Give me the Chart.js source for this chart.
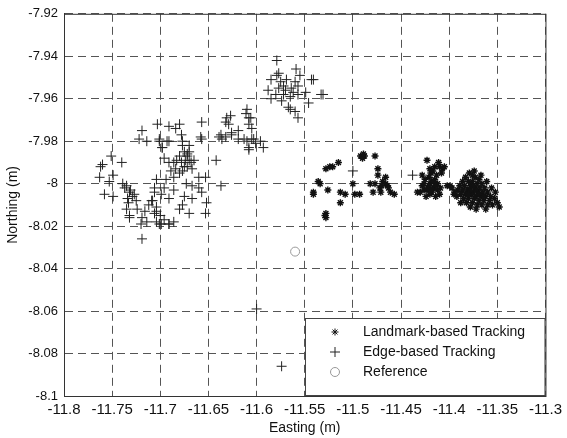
<!DOCTYPE html>
<html>
<head>
<meta charset="utf-8">
<script src="https://cdn.jsdelivr.net/npm/chart.js@4"></script>
<style>
  body { margin: 0; background: #fff; }
  #wrap { width: 567px; height: 438px; }
</style>
</head>
<body>
<div id="wrap"><canvas id="myChart" width="567" height="438"></canvas></div>
<script>
// tick values / labels
const xTicks = [-11.8, -11.75, -11.7, -11.65, -11.6, -11.55, -11.5, -11.45, -11.4, -11.35, -11.3];
const xTickLabels = ['-11.8', '-11.75', '-11.7', '-11.65', '-11.6', '-11.55', '-11.5', '-11.45', '-11.4', '-11.35', '-11.3'];
const yTicks = [-8.1, -8.08, -8.06, -8.04, -8.02, -8, -7.98, -7.96, -7.94, -7.92];
const yTickLabels = ['-8.1', '-8.08', '-8.06', '-8.04', '-8.02', '-8', '-7.98', '-7.96', '-7.94', '-7.92'];

const seriesNames = ['Landmark-based Tracking', 'Edge-based Tracking', 'Reference'];

// [easting, northing]
const landmarkPoints = [
  [-11.528,-7.993],[-11.515,-7.990],[-11.521,-7.992],[-11.541,-8.004],[-11.534,-8.000],[-11.526,-8.003],
  [-11.513,-8.004],[-11.508,-8.005],[-11.513,-8.009],[-11.528,-8.014],[-11.528,-8.016],[-11.500,-8.000],
  [-11.498,-8.005],[-11.493,-8.005],[-11.492,-7.987],[-11.488,-7.987],[-11.477,-7.987],[-11.474,-7.993],
  [-11.474,-7.996],[-11.482,-8.000],[-11.477,-8.000],[-11.472,-8.002],[-11.466,-7.997],[-11.466,-8.000],
  [-11.464,-8.001],[-11.461,-8.004],[-11.457,-8.005],[-11.471,-8.004],[-11.479,-8.004],[-11.536,-7.999],
  [-11.541,-8.005],[-11.490,-7.988],[-11.469,-7.999],[-11.529,-8.015],[-11.524,-7.992],[-11.470,-8.001],
  [-11.463,-8.002],[-11.489,-7.986],
  // cluster around -11.42
  [-11.423,-7.989],[-11.415,-7.992],[-11.410,-7.992],[-11.407,-7.993],[-11.420,-7.993],[-11.428,-7.996],
  [-11.421,-7.997],[-11.415,-7.998],[-11.426,-8.000],[-11.420,-8.000],[-11.412,-8.000],[-11.409,-8.002],
  [-11.423,-8.003],[-11.430,-8.004],[-11.418,-8.004],[-11.410,-8.005],[-11.433,-8.004],[-11.420,-8.005],
  [-11.428,-8.001],[-11.402,-8.001],[-11.399,-8.001],[-11.397,-8.002],[-11.395,-8.005],[-11.418,-7.999],
  [-11.416,-8.002],[-11.422,-8.002],[-11.413,-7.996],[-11.425,-7.998],[-11.412,-8.003],[-11.419,-7.995],
  [-11.424,-8.006],[-11.414,-8.006],[-11.417,-7.994],[-11.405,-7.992],[-11.411,-7.990],[-11.416,-7.999],
  [-11.421,-8.001],[-11.414,-8.001],[-11.426,-8.003],[-11.418,-8.003],[-11.408,-7.995],
  // cluster around -11.37
  [-11.379,-7.995],[-11.376,-7.996],[-11.383,-7.997],[-11.373,-7.997],[-11.369,-7.998],[-11.386,-7.999],
  [-11.380,-7.999],[-11.376,-7.999],[-11.371,-8.000],[-11.366,-8.000],[-11.389,-8.001],[-11.384,-8.001],
  [-11.378,-8.001],[-11.373,-8.002],[-11.368,-8.002],[-11.363,-8.002],[-11.391,-8.003],[-11.386,-8.003],
  [-11.381,-8.003],[-11.375,-8.004],[-11.370,-8.004],[-11.365,-8.004],[-11.360,-8.004],[-11.388,-8.005],
  [-11.383,-8.005],[-11.377,-8.005],[-11.372,-8.006],[-11.367,-8.006],[-11.362,-8.006],[-11.357,-8.006],
  [-11.392,-8.006],[-11.385,-8.007],[-11.380,-8.007],[-11.374,-8.007],[-11.369,-8.008],[-11.364,-8.008],
  [-11.358,-8.008],[-11.353,-8.007],[-11.382,-8.009],[-11.376,-8.009],[-11.371,-8.010],[-11.366,-8.010],
  [-11.360,-8.010],[-11.355,-8.010],[-11.350,-8.009],[-11.378,-8.011],[-11.372,-8.012],[-11.362,-8.012],
  [-11.348,-8.011],[-11.394,-8.004],[-11.388,-8.009],[-11.352,-8.004],[-11.356,-8.002],[-11.361,-7.999],
  [-11.367,-7.996],[-11.374,-7.994],[-11.378,-8.003],[-11.372,-8.003],[-11.375,-8.001],[-11.369,-8.005],
  [-11.380,-8.005],[-11.364,-8.006]
];

const edgePoints = [
  // left group
  [-11.751,-7.987],[-11.760,-7.991],[-11.740,-7.990],[-11.763,-7.997],[-11.753,-7.999],[-11.749,-7.996],
  [-11.758,-8.005],[-11.749,-8.006],[-11.739,-8.000],[-11.735,-8.001],[-11.732,-8.004],[-11.729,-8.006],
  [-11.734,-8.007],[-11.725,-8.008],[-11.735,-8.012],[-11.724,-8.012],[-11.732,-8.016],[-11.719,-8.016],
  [-11.716,-8.013],[-11.709,-8.008],[-11.706,-8.004],[-11.704,-8.013],[-11.714,-8.018],[-11.720,-8.019],
  [-11.704,-8.018],[-11.699,-8.019],[-11.691,-8.019],[-11.719,-8.026],[-11.719,-7.975],[-11.714,-7.980],
  [-11.722,-7.979],[-11.762,-7.992],[-11.737,-8.002],[-11.731,-8.003],[-11.733,-8.009],[-11.727,-8.005],
  [-11.732,-8.015],[-11.712,-8.010],[-11.700,-8.015],[-11.696,-8.017],[-11.686,-8.018],
  // dense group near -11.68
  [-11.703,-7.972],[-11.691,-7.973],[-11.684,-7.974],[-11.657,-7.971],[-11.657,-7.979],[-11.678,-7.977],
  [-11.701,-7.980],[-11.693,-7.980],[-11.698,-7.983],[-11.677,-7.982],[-11.672,-7.986],[-11.670,-7.989],
  [-11.678,-7.990],[-11.684,-7.993],[-11.691,-7.990],[-11.696,-7.988],[-11.677,-7.994],[-11.667,-7.993],
  [-11.686,-7.997],[-11.694,-7.998],[-11.704,-7.998],[-11.706,-8.002],[-11.696,-8.002],[-11.686,-8.003],
  [-11.673,-8.000],[-11.667,-8.001],[-11.660,-8.002],[-11.657,-8.004],[-11.675,-8.006],[-11.691,-8.007],
  [-11.699,-8.005],[-11.667,-8.007],[-11.708,-8.008],[-11.704,-8.011],[-11.677,-8.010],[-11.680,-8.012],
  [-11.670,-8.014],[-11.706,-8.014],[-11.701,-8.019],[-11.691,-8.019],[-11.652,-8.009],[-11.642,-7.989],
  [-11.637,-8.001],[-11.660,-7.997],[-11.653,-7.997],[-11.675,-7.985],[-11.672,-7.987],[-11.670,-7.985],
  [-11.674,-7.989],[-11.668,-7.990],[-11.680,-7.987],[-11.683,-7.989],[-11.675,-7.992],[-11.686,-7.990],
  [-11.689,-7.994],[-11.680,-7.995],[-11.672,-7.992],[-11.665,-7.989],[-11.670,-7.982],[-11.677,-7.980],
  [-11.680,-7.972],[-11.701,-7.979],[-11.698,-7.983],[-11.691,-7.980],[-11.658,-7.978],[-11.653,-8.014],
  // middle group
  [-11.631,-7.969],[-11.629,-7.972],[-11.611,-7.967],[-11.606,-7.969],[-11.608,-7.972],[-11.637,-7.977],
  [-11.632,-7.978],[-11.626,-7.976],[-11.619,-7.979],[-11.613,-7.979],[-11.610,-7.980],[-11.605,-7.979],
  [-11.601,-7.981],[-11.608,-7.984],[-11.632,-7.971],[-11.627,-7.968],[-11.610,-7.965],[-11.608,-7.969],
  [-11.605,-7.974],[-11.603,-7.979],[-11.593,-7.983],[-11.619,-7.975],[-11.626,-7.977],[-11.639,-7.978],
  [-11.636,-7.979],[-11.608,-7.983],[-11.596,-7.980],
  // upper group
  [-11.579,-7.942],[-11.559,-7.946],[-11.579,-7.949],[-11.585,-7.951],[-11.569,-7.951],[-11.560,-7.952],
  [-11.557,-7.954],[-11.577,-7.955],[-11.580,-7.958],[-11.572,-7.958],[-11.565,-7.959],[-11.557,-7.958],
  [-11.549,-7.957],[-11.541,-7.951],[-11.531,-7.958],[-11.585,-7.960],[-11.574,-7.961],[-11.567,-7.964],
  [-11.560,-7.966],[-11.557,-7.969],[-11.565,-7.965],[-11.546,-7.962],[-11.588,-7.956],[-11.572,-7.954],
  [-11.564,-7.955],[-11.555,-7.949],[-11.543,-7.951],[-11.533,-7.958],[-11.577,-7.948],[-11.570,-7.956],
  [-11.562,-7.957],[-11.575,-7.952],
  // scattered
  [-11.574,-8.086],[-11.600,-8.059],[-11.500,-7.994],[-11.438,-7.996]
];

const referencePoints = [[-11.560, -8.032]];

const toXY = pts => pts.map(p => ({ x: p[0], y: p[1] }));

const fontFamily = "'Liberation Sans', Arial, sans-serif";

// box round the plot + legend in the lower right corner
const framePlugin = {
  id: 'frame',
  afterDraw(chart) {
    const ctx = chart.ctx;
    const a = chart.chartArea;
    ctx.save();
    ctx.strokeStyle = '#333';
    ctx.lineWidth = 1;
    ctx.setLineDash([]);
    ctx.strokeRect(a.left + 0.5, a.top + 0.5, a.right - a.left, a.bottom - a.top);

    // legend
    const bx = 305, by = 318, bw = a.right - 305 - 1, bh = a.bottom - 318 - 1;
    ctx.fillStyle = '#fff';
    ctx.fillRect(bx, by, bw, bh);
    ctx.strokeStyle = '#444';
    ctx.strokeRect(bx + 0.5, by + 0.5, bw, bh);
    ctx.font = '14px ' + fontFamily;
    ctx.textBaseline = 'middle';
    const rows = [332, 352, 372];
    chart.data.datasets.forEach((ds, i) => {
      const sx = 335, sy = rows[i];
      ctx.strokeStyle = ds.borderColor;
      ctx.lineWidth = 1;
      ctx.beginPath();
      if (ds.pointStyle === 'star') {
        const r = 3.5;
        ctx.moveTo(sx - r, sy); ctx.lineTo(sx + r, sy);
        ctx.moveTo(sx, sy - r); ctx.lineTo(sx, sy + r);
        ctx.moveTo(sx - r * 0.7, sy - r * 0.7); ctx.lineTo(sx + r * 0.7, sy + r * 0.7);
        ctx.moveTo(sx - r * 0.7, sy + r * 0.7); ctx.lineTo(sx + r * 0.7, sy - r * 0.7);
      } else if (ds.pointStyle === 'cross') {
        ctx.moveTo(sx - 5, sy); ctx.lineTo(sx + 5, sy);
        ctx.moveTo(sx, sy - 5); ctx.lineTo(sx, sy + 5);
      } else {
        ctx.arc(sx, sy, 4.5, 0, Math.PI * 2);
      }
      ctx.stroke();
      ctx.fillStyle = '#111';
      ctx.fillText(ds.label, 363, sy);
    });
    ctx.restore();
  }
};

const ctx = document.getElementById('myChart').getContext('2d');
const myChart = new Chart(ctx, {
  type: 'scatter',
  data: {
    datasets: [{
      label: seriesNames[0],
      data: toXY(landmarkPoints),
      pointStyle: 'star',
      pointRadius: 3.5,
      borderWidth: 1.4,
      borderColor: '#111',
      backgroundColor: '#111'
    }, {
      label: seriesNames[1],
      data: toXY(edgePoints),
      pointStyle: 'cross',
      pointRadius: 5,
      borderWidth: 1,
      borderColor: '#222',
      backgroundColor: '#222'
    }, {
      label: seriesNames[2],
      data: toXY(referencePoints),
      pointStyle: 'circle',
      pointRadius: 4.5,
      borderWidth: 1,
      borderColor: '#999',
      backgroundColor: 'rgba(0,0,0,0)'
    }]
  },
  options: {
    responsive: false,
    animation: false,
    layout: { padding: { top: 12, right: 18, left: 0, bottom: 0 } },
    plugins: {
      legend: { display: false },
      tooltip: { enabled: false }
    },
    scales: {
      x: {
        type: 'linear',
        min: -11.8,
        max: -11.3,
        afterBuildTicks: axis => { axis.ticks = xTicks.map(v => ({ value: v })); },
        afterFit: axis => { axis.height = 42; },
        ticks: {
          autoSkip: false,
          maxRotation: 0,
          padding: 5,
          color: '#111',
          font: { family: fontFamily, size: 15 },
          callback: (v, i) => xTickLabels[i]
        },
        grid: { color: '#555', lineWidth: 1, drawTicks: false },
        border: { display: true, color: '#333', dash: [8, 5] },
        title: {
          display: true,
          text: 'Easting (m)',
          color: '#111',
          font: { family: fontFamily, size: 14 },
          padding: { top: 0, bottom: 1 }
        }
      },
      y: {
        type: 'linear',
        min: -8.1,
        max: -7.92,
        afterBuildTicks: axis => { axis.ticks = yTicks.map(v => ({ value: v })); },
        afterFit: axis => { axis.width = 64; },
        ticks: {
          autoSkip: false,
          padding: 6,
          color: '#111',
          font: { family: fontFamily, size: 13 },
          callback: (v, i) => yTickLabels[i]
        },
        grid: { color: '#555', lineWidth: 1, drawTicks: false },
        border: { display: true, color: '#333', dash: [8, 5] },
        title: {
          display: true,
          text: 'Northing (m)',
          color: '#111',
          font: { family: fontFamily, size: 14 },
          padding: { top: 5, bottom: 4 }
        }
      }
    }
  },
  plugins: [framePlugin]
});
</script>
</body>
</html>
